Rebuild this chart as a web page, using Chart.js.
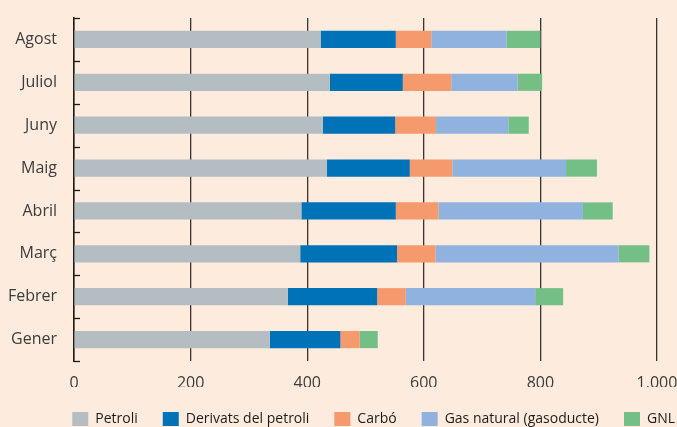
<!DOCTYPE html>
<html lang="ca">
<head>
<meta charset="UTF-8">
<title>Importacions</title>
<script src="https://cdn.jsdelivr.net/npm/chart.js"></script>
<style>
    html, body {
        margin: 0;
        padding: 0;
        background: #fdebdd;
    }
    .wrap {
        width: 677px;
        height: 427px;
        position: relative;
        overflow: hidden;
    }
</style>
</head>
<body>
<div class="wrap">
    <canvas id="chart"></canvas>
</div>
<script>
    // months, chronological (drawn reversed so Gener is at the bottom)
    const months = ['Gener', 'Febrer', 'Març', 'Abril', 'Maig', 'Juny', 'Juliol', 'Agost'];
    const petroli = [336, 367, 388, 390, 434, 427, 439, 423];
    const derivats = [121, 153, 166, 162, 142, 124, 125, 129];
    const carbo = [33, 49, 66, 73, 73, 70, 83, 61];
    const gasNatural = [0, 222, 314, 248, 195, 124, 114, 129];
    const gnl = [31, 48, 53, 51, 53, 35, 42, 58];
    const xTicks = [0, 200, 400, 600, 800, 1000];

    const font = "'Open Sans', sans-serif";

    // small tick marks on the inside of the y axis, at category boundaries
    const innerTicks = {
        id: 'innerTicks',
        afterDraw(chart) {
            const y = chart.scales.y;
            const ctx = chart.ctx;
            const n = y.ticks.length;
            ctx.save();
            ctx.strokeStyle = '#1e1a18';
            ctx.lineWidth = 1.3;
            for (let i = 0; i <= n; i++) {
                const py = Math.round(y.top + i * (y.bottom - y.top) / n) + 0.5;
                ctx.beginPath();
                ctx.moveTo(y.right, py);
                ctx.lineTo(y.right + 6, py);
                ctx.stroke();
            }
            ctx.restore();
        }
    };

    // the legend row in the original runs right up to the edge of the figure
    const legendToEdge = {
        id: 'legendToEdge',
        afterLayout(chart) {
            const lg = chart.legend;
            const shift = chart.width + lg.options.labels.padding - 2 - lg.right;
            lg.left += shift;
            lg.right += shift;
        }
    };

    function ds(label, data, color) {
        return {
            label: label,
            data: data,
            backgroundColor: color,
            borderWidth: 0,
            barPercentage: 0.4,
            categoryPercentage: 1
        };
    }

    new Chart(document.getElementById('chart'), {
        type: 'bar',
        data: {
            labels: months,
            datasets: [
                ds('Petroli', petroli, '#b4bec2'),
                ds('Derivats del petroli', derivats, '#0073b8'),
                ds('Carbó', carbo, '#f49a6c'),
                ds('Gas natural (gasoducte)', gasNatural, '#8fb2de'),
                ds('GNL', gnl, '#74bf86')
            ]
        },
        options: {
            indexAxis: 'y',
            responsive: true,
            maintainAspectRatio: false,
            animation: false,
            layout: {
                padding: { top: 18, right: 10, left: 0, bottom: -9 }
            },
            scales: {
                x: {
                    stacked: true,
                    min: 0,
                    max: 1000,
                    afterBuildTicks(scale) {
                        scale.ticks = xTicks.map(v => ({ value: v }));
                    },
                    afterFit(scale) {
                        scale.height = 26;
                        scale.paddingLeft = 0;
                        scale.paddingRight = 20;
                    },
                    grid: {
                        color: '#3a3330',
                        lineWidth: 1.3,
                        drawTicks: false
                    },
                    border: { display: false },
                    ticks: {
                        padding: 13,
                        color: '#3c3c3c',
                        font: { family: font, size: 16 },
                        callback: v => v >= 1000 ? (v / 1000) + '.' + String(v % 1000).padStart(3, '0') : String(v)
                    }
                },
                y: {
                    stacked: true,
                    reverse: true,
                    afterFit(scale) {
                        scale.width = 74;
                        scale.paddingTop = 0;
                        scale.paddingBottom = 0;
                    },
                    grid: {
                        drawOnChartArea: false,
                        drawTicks: false
                    },
                    border: {
                        display: true,
                        color: '#1e1a18',
                        width: 1.5
                    },
                    ticks: {
                        padding: 17,
                        color: '#3c3c3c',
                        font: { family: font, size: 16 }
                    }
                }
            },
            plugins: {
                legend: {
                    position: 'bottom',
                    align: 'end',
                    labels: {
                        boxWidth: 16,
                        boxHeight: 14,
                        padding: 25,
                        color: '#1c1c1c',
                        font: { family: font, size: 14 }
                    }
                },
                tooltip: { enabled: false }
            }
        },
        plugins: [innerTicks, legendToEdge]
    });
</script>
</body>
</html>
